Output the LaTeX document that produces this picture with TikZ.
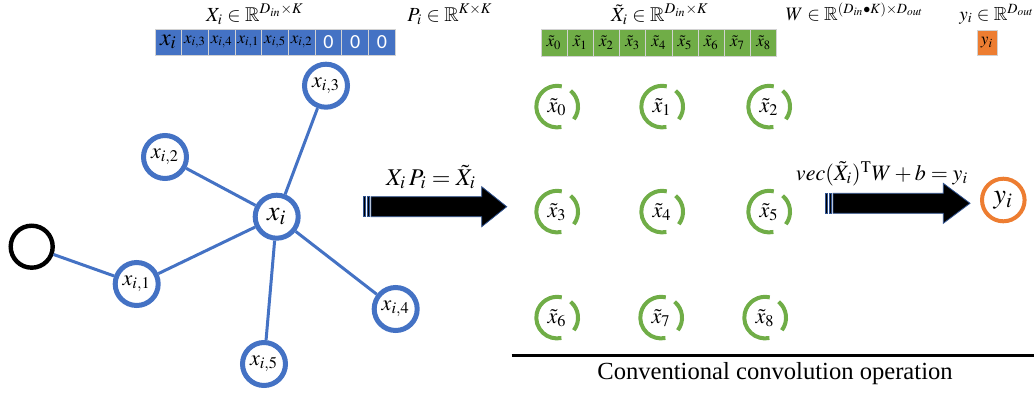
\documentclass[tikz,border=0pt]{standalone}
\usepackage{mathptmx}
\usepackage{amssymb}
\usepackage[no-math]{fontspec}
\setmainfont{Liberation Serif}
\newfontfamily\cellfont{Carlito}
\usetikzlibrary{positioning}

\definecolor{nodeblue}{HTML}{4472C4}
\definecolor{cellgreen}{HTML}{70AD47}
\definecolor{outorange}{HTML}{ED7D31}
\definecolor{arrowline}{HTML}{2F528F}

\begin{document}
\begin{tikzpicture}[
  x=0.5pt, y=-0.5pt,
  bcell/.style={rectangle, draw=gray!35, fill=nodeblue, line width=0.5pt,
                minimum width=13.35pt, minimum height=13pt, inner sep=0pt, outer sep=0pt,
                font=\fontsize{8.5}{9}\selectfont},
  gcell/.style={rectangle, draw=gray!35, fill=cellgreen, line width=0.5pt,
                minimum width=13.1pt, minimum height=13.5pt, inner sep=0pt, outer sep=0pt,
                font=\fontsize{8.5}{9}\selectfont},
  zcell/.style={bcell, text=white, font=\fontsize{10}{11}\cellfont},
  gnode/.style={circle, draw=nodeblue, line width=2.5pt, fill=white,
                minimum size=21.5pt, inner sep=0pt, font=\fontsize{11}{12}\selectfont},
  tnode/.style={circle, minimum size=20.8pt, inner sep=0pt, font=\fontsize{11}{12}\selectfont},
  garc/.style={cellgreen, line width=2pt},
  edge/.style={nodeblue, line width=1.5pt},
  blockarr/.style={fill=black, draw=arrowline, line width=0.4pt},
  mlabel/.style={anchor=base, inner sep=0pt, font=\fontsize{10}{12}\selectfont}
]
\useasboundingbox (0,0) rectangle (1034,392);

% top labels
\node[mlabel] (lblX)  at (255,21) {$X_i\in\mathbb{R}^{D_{in}\times K}$};
\node[mlabel] (lblP)  at (450,21) {$P_i\in\mathbb{R}^{K\times K}$};
\node[mlabel] (lblXt) at (660,21) {$\tilde{X}_i\in\mathbb{R}^{D_{in}\times K}$};
\node[mlabel, font=\fontsize{9.5}{12}\selectfont] (lblW) at (855,20) {$W\in\mathbb{R}^{(D_{in}\bullet K)\times D_{out}}$};
\node[mlabel, font=\fontsize{9.5}{12}\selectfont] (lblY) at (997,20) {$y_i\in\mathbb{R}^{D_{out}}$};

% blue input row
\node[bcell, font=\fontsize{12}{13}\selectfont] (b1) at (168.35,42) {$x_i$};
\node[bcell, right=0pt of b1] (b2) {$x_{i,3}$};
\node[bcell, right=0pt of b2] (b3) {$x_{i,4}$};
\node[bcell, right=0pt of b3] (b4) {$x_{i,1}$};
\node[bcell, right=0pt of b4] (b5) {$x_{i,5}$};
\node[bcell, right=0pt of b5] (b6) {$x_{i,2}$};
\node[zcell, right=0pt of b6] (b7) {0};
\node[zcell, right=0pt of b7] (b8) {0};
\node[zcell, right=0pt of b8] (b9) {0};

% green row
\node[gcell] (c0) at (554.1,42.5) {$\tilde{x}_0$};
\node[gcell, right=0pt of c0] (c1) {$\tilde{x}_1$};
\node[gcell, right=0pt of c1] (c2) {$\tilde{x}_2$};
\node[gcell, right=0pt of c2] (c3) {$\tilde{x}_3$};
\node[gcell, right=0pt of c3] (c4) {$\tilde{x}_4$};
\node[gcell, right=0pt of c4] (c5) {$\tilde{x}_5$};
\node[gcell, right=0pt of c5] (c6) {$\tilde{x}_6$};
\node[gcell, right=0pt of c6] (c7) {$\tilde{x}_7$};
\node[gcell, right=0pt of c7] (c8) {$\tilde{x}_8$};

% output cell
\node[rectangle, fill=outorange, draw=gray!35, line width=0.5pt, minimum width=10pt,
      minimum height=12.5pt, inner sep=0pt, font=\fontsize{8.5}{9}\selectfont] (ycell) at (987,42.5) {$y_i$};

% neighbourhood graph
\node[gnode, font=\fontsize{14}{15}\selectfont] (xi) at (276.7,216.7) {$x_i$};
\node[gnode] (xi3) at (326,85.7) {$x_{i,3}$};
\node[gnode] (xi2) at (165,157) {$x_{i,2}$};
\node[gnode] (xi1) at (136.7,284) {$x_{i,1}$};
\node[gnode] (xi4) at (395.7,309) {$x_{i,4}$};
\node[gnode] (xi5) at (264,364) {$x_{i,5}$};
\node[circle, draw=black, line width=2.2pt, minimum size=21pt, inner sep=0pt] (far) at (31.7,246.7) {};
\draw[edge] (xi) -- (xi3);
\draw[edge] (xi) -- (xi2);
\draw[edge] (xi) -- (xi1);
\draw[edge] (xi) -- (xi4);
\draw[edge] (xi) -- (xi5);
\draw[edge] (xi1) -- (far);

% first block arrow
\draw[blockarr] (363,196.7) rectangle (365.5,216.7);
\draw[blockarr] (367,196.7) rectangle (369.5,216.7);
\draw[blockarr] (371,196.7) -- (481.7,196.7) -- (481.7,186.7) -- (506.7,206.7)
  -- (481.7,226.7) -- (481.7,216.7) -- (371,216.7) -- cycle;
\node[anchor=base, inner sep=0pt, font=\fontsize{12}{13}\selectfont] (lblconv) at (431,185)
  {$X_i\,P_i=\tilde{X}_i$};

% convolution grid
\node[tnode] (g0) at (557,107) {$\tilde{x}_0$};
\node[tnode] (g1) at (662,107) {$\tilde{x}_1$};
\node[tnode] (g2) at (769,107) {$\tilde{x}_2$};
\node[tnode] (g3) at (557,212) {$\tilde{x}_3$};
\node[tnode] (g4) at (662,212) {$\tilde{x}_4$};
\node[tnode] (g5) at (769,212) {$\tilde{x}_5$};
\node[tnode] (g6) at (557,318) {$\tilde{x}_6$};
\node[tnode] (g7) at (661,318) {$\tilde{x}_7$};
\node[tnode] (g8) at (765,318) {$\tilde{x}_8$};
\foreach \n in {0,...,8}{
  \draw[garc] (g\n.77) arc[start angle=77, end angle=282, radius=10.4pt];
  \draw[garc] (g\n.50) arc[start angle=50, end angle=-37, radius=10.4pt];
}

% second block arrow
\draw[blockarr] (825,193.3) rectangle (827.5,213.3);
\draw[blockarr] (829,193.3) rectangle (831.5,213.3);
\draw[blockarr] (833,193.3) -- (943.3,193.3) -- (943.3,183.3) -- (970,203.3)
  -- (943.3,223.3) -- (943.3,213.3) -- (833,213.3) -- cycle;
\node[anchor=base, inner sep=0pt, font=\fontsize{11}{12}\selectfont] (lblfc) at (882,180)
  {$vec(\tilde{X}_i)^{\mathrm{T}}W+b=y_i$};

\node[circle, draw=outorange, line width=2pt, minimum size=21.3pt, inner sep=0pt,
      font=\fontsize{14}{15}\selectfont] (yi) at (1003.3,200) {$y_i$};

% bottom rule and caption
\coordinate (ruleL) at (511.7,355);
\coordinate (ruleR) at (1034,355);
\draw[line width=1.5pt] (ruleL) -- (ruleR);
\node[anchor=base, inner sep=0pt, font=\fontsize{12.3}{14}\selectfont] (caption) at (775,379)
  {Conventional convolution operation};
\end{tikzpicture}
\end{document}
